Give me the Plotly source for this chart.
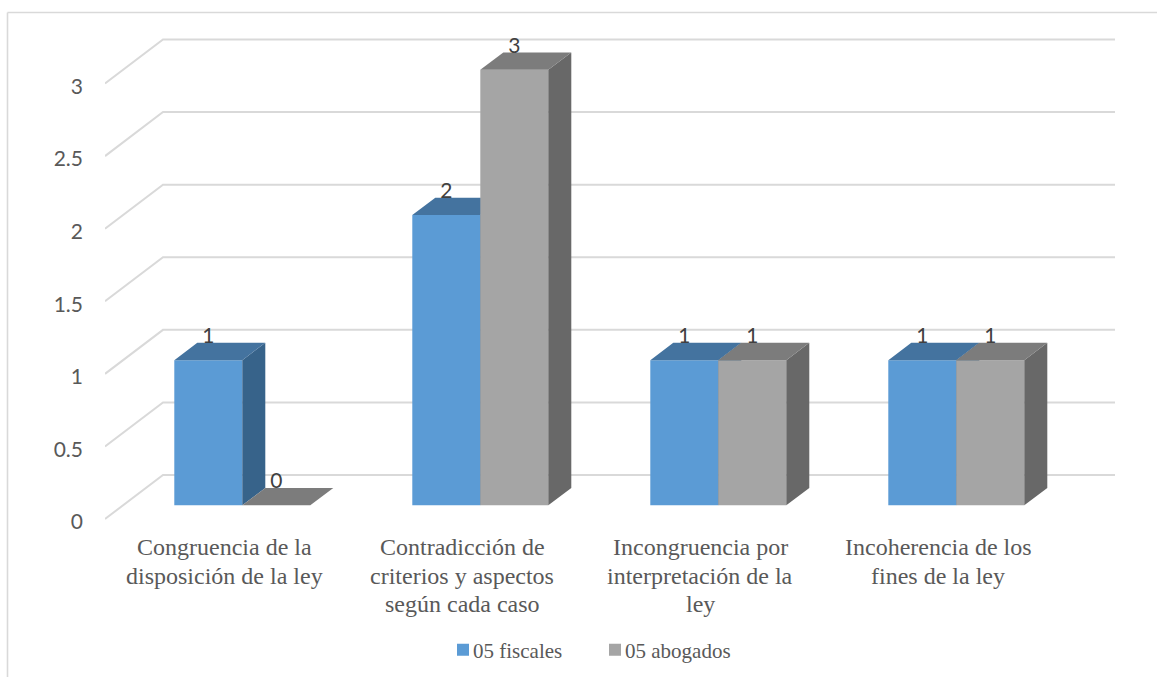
import plotly.graph_objects as go

# Chart data
categories = [
    ["Congruencia de la", "disposición de la ley"],
    ["Contradicción de", "criterios y aspectos", "según cada caso"],
    ["Incongruencia por", "interpretación de la", "ley"],
    ["Incoherencia de los", "fines de la ley"],
]
fiscales = [1, 2, 1, 1]
abogados = [0, 3, 1, 1]
series_names = ["05 fiscales", "05 abogados"]
y_ticks = [0, 0.5, 1, 1.5, 2, 2.5, 3]
y_tick_labels = ["0", "0.5", "1", "1.5", "2", "2.5", "3"]

# Colours: front, top and side faces of each series
FACES = [
    ("#5B9BD5", "#44739F", "#37638A"),
    ("#A5A5A5", "#7C7C7C", "#686868"),
]
GRID = "#D9D9D9"

# Page layout in pixels
W, H = 1157, 677
PLOT_L, PLOT_R, PLOT_T, PLOT_B = 105, 1125, 30, 530
FLOOR_PY = 519          # where value 0 falls on the front of the floor
TICK_PY = 522           # value axis labels sit slightly below their level
PX_PER_GROUP = 238.0
PX_PER_UNIT = 145.17

# Oblique projection, in axis units
DEPTH_X = 58 / PX_PER_GROUP     # floor depth
DEPTH_Y = 44 / PX_PER_UNIT
BAR_OFF_X = 18 / PX_PER_GROUP   # front of the bars within the floor
BAR_OFF_Y = 13.7 / PX_PER_UNIT
BAR_D_X = 23 / PX_PER_GROUP     # depth of a bar
BAR_D_Y = 17.3 / PX_PER_UNIT
BAR_W = 68 / PX_PER_GROUP
GROUP_GAP = 51.3 / PX_PER_GROUP
LABEL_LIFT = 22.5 / PX_PER_UNIT

x_range = [0, (PLOT_R - PLOT_L) / PX_PER_GROUP]
y_range = [(FLOOR_PY - PLOT_B) / PX_PER_UNIT, (FLOOR_PY - PLOT_T) / PX_PER_UNIT]
tick_range = [(TICK_PY - PLOT_B) / PX_PER_UNIT, (TICK_PY - PLOT_T) / PX_PER_UNIT]


def polygons(shapes):
    """Join closed polygons into one x/y path with gaps."""
    xs, ys = [], []
    for shape in shapes:
        for px, py in shape + [shape[0]]:
            xs.append(px)
            ys.append(py)
        xs.append(None)
        ys.append(None)
    return xs, ys


def paper_x(px):
    return (px - PLOT_L) / (PLOT_R - PLOT_L)


def paper_y(py):
    return (PLOT_B - py) / (PLOT_B - PLOT_T)


fig = go.Figure()

# Empty trace that keeps the labelled value axis on the page
fig.add_trace(go.Scatter(x=[0], y=[0], mode="markers", marker=dict(opacity=0),
                         showlegend=False, hoverinfo="skip"))

# Back wall grid lines with their oblique run to the front of the floor
grid_x, grid_y = [], []
for v in y_ticks:
    grid_x += [0, DEPTH_X, len(categories) + DEPTH_X, None]
    grid_y += [v, v + DEPTH_Y, v + DEPTH_Y, None]
fig.add_trace(go.Scatter(
    x=grid_x, y=grid_y, mode="lines", line=dict(color=GRID, width=2),
    yaxis="y2", showlegend=False, hoverinfo="skip",
))

# Each series has its own overlaid axis so that later faces cover earlier ones
for s, (name, values) in enumerate(zip(series_names, [fiscales, abogados])):
    front, top, side = FACES[s]
    yaxis = f"y{s + 3}"
    lefts = [g + GROUP_GAP + BAR_OFF_X + s * BAR_W for g in range(len(values))]

    fig.add_trace(go.Bar(
        x=[x + BAR_W / 2 for x in lefts], y=values, base=BAR_OFF_Y, width=BAR_W,
        name=name, marker=dict(color=front, line=dict(width=0)),
        yaxis=yaxis, hoverinfo="skip",
    ))

    tops = [
        [(x, v + BAR_OFF_Y), (x + BAR_W, v + BAR_OFF_Y),
         (x + BAR_W + BAR_D_X, v + BAR_OFF_Y + BAR_D_Y),
         (x + BAR_D_X, v + BAR_OFF_Y + BAR_D_Y)]
        for x, v in zip(lefts, values)
    ]
    sides = [
        [(x + BAR_W, BAR_OFF_Y), (x + BAR_W + BAR_D_X, BAR_OFF_Y + BAR_D_Y),
         (x + BAR_W + BAR_D_X, v + BAR_OFF_Y + BAR_D_Y), (x + BAR_W, v + BAR_OFF_Y)]
        for x, v in zip(lefts, values) if v > 0
    ]
    for shapes, colour in ((sides, side), (tops, top)):
        px_, py_ = polygons(shapes)
        fig.add_trace(go.Scatter(
            x=px_, y=py_, mode="lines", fill="toself", fillcolor=colour,
            line=dict(width=0, color=colour), yaxis=yaxis,
            showlegend=False, hoverinfo="skip",
        ))

# Value labels sit above the front face of each bar
for s, values in enumerate([fiscales, abogados]):
    fig.add_trace(go.Scatter(
        x=[g + GROUP_GAP + BAR_OFF_X + s * BAR_W + BAR_W / 2 for g in range(len(values))],
        y=[v + BAR_OFF_Y + LABEL_LIFT for v in values],
        text=[str(v) for v in values], mode="text", textposition="middle center",
        textfont=dict(family="Lato", size=21, color="#404040"),
        yaxis="y4", showlegend=False, hoverinfo="skip", cliponaxis=False,
    ))

# Category names are set line by line for a tight leading
CATEGORY_FIRST_LINE_PY = 547
CATEGORY_LEADING = 28.5
category_labels = [
    dict(
        text=line, x=g + 0.5, xref="x",
        y=paper_y(CATEGORY_FIRST_LINE_PY + i * CATEGORY_LEADING), yref="paper",
        xanchor="center", yanchor="middle", showarrow=False,
        font=dict(family="Liberation Serif", size=24, color="#595959"),
    )
    for g, lines in enumerate(categories) for i, line in enumerate(lines)
]

hidden_y = dict(range=y_range, overlaying="y", visible=False, fixedrange=True)

fig.update_layout(
    width=W, height=H,
    margin=dict(l=PLOT_L, r=W - PLOT_R, t=PLOT_T, b=H - PLOT_B, autoexpand=False),
    paper_bgcolor="white", plot_bgcolor="white",
    barmode="overlay",
    xaxis=dict(
        range=x_range, showticklabels=False,
        showgrid=False, zeroline=False, showline=False, ticks="",
    ),
    yaxis=dict(
        range=tick_range, tickmode="array", tickvals=y_ticks, ticktext=y_tick_labels,
        showgrid=False, zeroline=False, showline=False, ticks="",
        ticklabelstandoff=21,
        tickfont=dict(family="Lato", size=21, color="#595959"),
    ),
    yaxis2=hidden_y,
    yaxis3=hidden_y,
    yaxis4=hidden_y,
    annotations=category_labels,
    legend=dict(
        orientation="h", x=paper_x(443), y=paper_y(629.5), xanchor="left", yanchor="top",
        font=dict(family="Liberation Serif", size=21, color="#595959"),
        bgcolor="rgba(0,0,0,0)", traceorder="normal",
        entrywidth=107, entrywidthmode="pixels",
    ),
    # Chart area border: top and left edges
    shapes=[
        dict(type="line", xref="paper", yref="paper", layer="below",
             x0=paper_x(7.5), y0=paper_y(12.5), x1=paper_x(W), y1=paper_y(12.5),
             line=dict(color=GRID, width=1.6)),
        dict(type="line", xref="paper", yref="paper", layer="below",
             x0=paper_x(7.5), y0=paper_y(12.5), x1=paper_x(7.5), y1=paper_y(H),
             line=dict(color=GRID, width=1.6)),
    ],
)

# Bring the legend text closer to its swatch
tighten_legend = """
document.querySelectorAll('.legendtext').forEach(function (t) {
  t.setAttribute('x', parseFloat(t.getAttribute('x')) - 10);
});
"""

fig.write_html("out.html", post_script=tighten_legend)
